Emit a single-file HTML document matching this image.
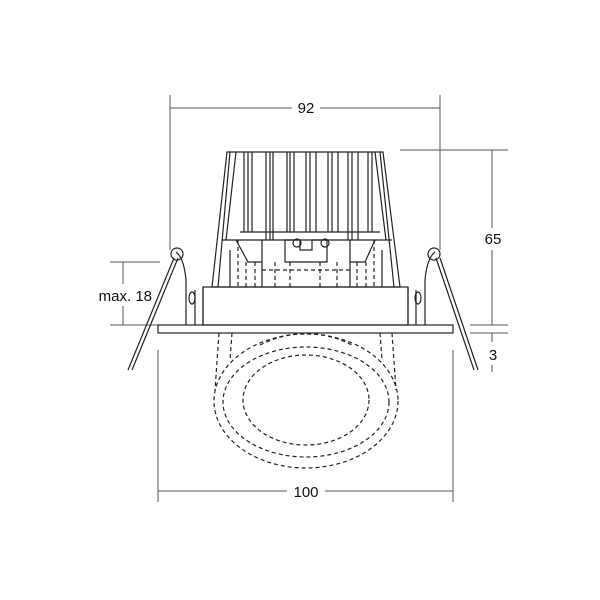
<!DOCTYPE html>
<html><head><style>
html,body{margin:0;padding:0;background:#fff}
svg{display:block}
text{font-family:"Liberation Sans",Arial,sans-serif;font-size:15px;fill:#111}
</style></head><body>
<svg width="600" height="600" viewBox="0 0 600 600" xmlns="http://www.w3.org/2000/svg">
<g stroke="#555" stroke-width="1" fill="none">
<line x1="170" y1="95" x2="170" y2="250"/>
<line x1="440" y1="95" x2="440" y2="250"/>
<line x1="170" y1="108" x2="292" y2="108"/>
<line x1="320" y1="108" x2="440" y2="108"/>
<line x1="400" y1="150" x2="508" y2="150"/>
<line x1="470" y1="325" x2="508" y2="325"/>
<line x1="470" y1="333" x2="508" y2="333"/>
<line x1="492" y1="150" x2="492" y2="228"/>
<line x1="492" y1="250" x2="492" y2="325"/>
<line x1="492" y1="333" x2="492" y2="342"/>
<line x1="492" y1="365" x2="492" y2="372"/>
<line x1="110" y1="262" x2="160" y2="262"/>
<line x1="110" y1="325" x2="160" y2="325"/>
<line x1="123" y1="262" x2="123" y2="284"/>
<line x1="123" y1="306" x2="123" y2="325"/>
<line x1="158" y1="350" x2="158" y2="502"/>
<line x1="453" y1="350" x2="453" y2="502"/>
<line x1="158" y1="491" x2="287" y2="491"/>
<line x1="325" y1="491" x2="453" y2="491"/>
</g>
<g stroke="#222" stroke-width="1.2" fill="none">
<rect x="158" y="325" width="295" height="8"/>
<rect x="203" y="287" width="205" height="38"/>
<path d="M186 325 V280 Q184 258 176 252 M195 325 V290 M203 325 V287"/>
<path d="M425 325 V280 Q427 258 435 252 M416 325 V290 M408 325 V287"/>
<circle cx="177" cy="254" r="6"/><circle cx="434" cy="254" r="6"/>
<ellipse cx="192" cy="298" rx="3" ry="6"/><ellipse cx="418" cy="298" rx="3" ry="6"/>
<path d="M174 258 L128 370 M178 258 L132 370"/>
<path d="M436 258 L474 370 M440 258 L478 370"/>
<path d="M227 152 H383 L400 287 H212 Z"/>
<path d="M230 152 L218 287 M380 152 L394 287 M236 152 L226 240 M375 152 L386 240"/>
<path d="M244 152 V232 M248 152 V232 M252 152 V232 M266 152 V240 M270 152 V240 M273 152 V240 M287 152 V232 M290 152 V232 M294 152 V232 M306 152 V232 M310 152 V232 M316 152 V232 M328 152 V232 M332 152 V232 M338 152 V232 M348 152 V240 M352 152 V240 M358 152 V240 M368 152 V232 M372 152 V232"/>
<path d="M240 232 H380 M222 240 H392"/>
<path d="M236 240 L248 262 H262 M375 240 L365 262 H350"/>
<path d="M262 240 V287 M350 240 V287 M230 250 V287 M382 250 V287"/>
<path d="M285 240 H300 V250 H312 V240 H327 V262 H285 Z"/>
<circle cx="297" cy="243" r="4"/><circle cx="325" cy="243" r="4"/>
<g stroke-dasharray="4 3">
<path d="M238 240 V287 M246 262 V287 M275 262 V287 M337 262 V287 M366 262 V287 M374 240 V287 M255 262 V287 M357 262 V287 M290 262 V287 M320 262 V287"/>
<path d="M262 270 H350"/>
<path d="M219 333 L215 390 M232 333 L230 360 M392 333 L396 390 M380 333 L382 360"/>
<ellipse cx="306" cy="401" rx="92" ry="67"/>
<ellipse cx="306" cy="402" rx="83" ry="55"/>
<ellipse cx="306" cy="400" rx="63" ry="45"/>
<path d="M260 345 Q306 322 352 345"/>
</g>
</g>
<text x="306" y="113" text-anchor="middle">92</text>
<text x="493" y="244" text-anchor="middle">65</text>
<text x="493" y="360" text-anchor="middle">3</text>
<text x="152" y="301" text-anchor="end">max. 18</text>
<text x="306" y="497" text-anchor="middle">100</text>
</svg>
</body></html>
